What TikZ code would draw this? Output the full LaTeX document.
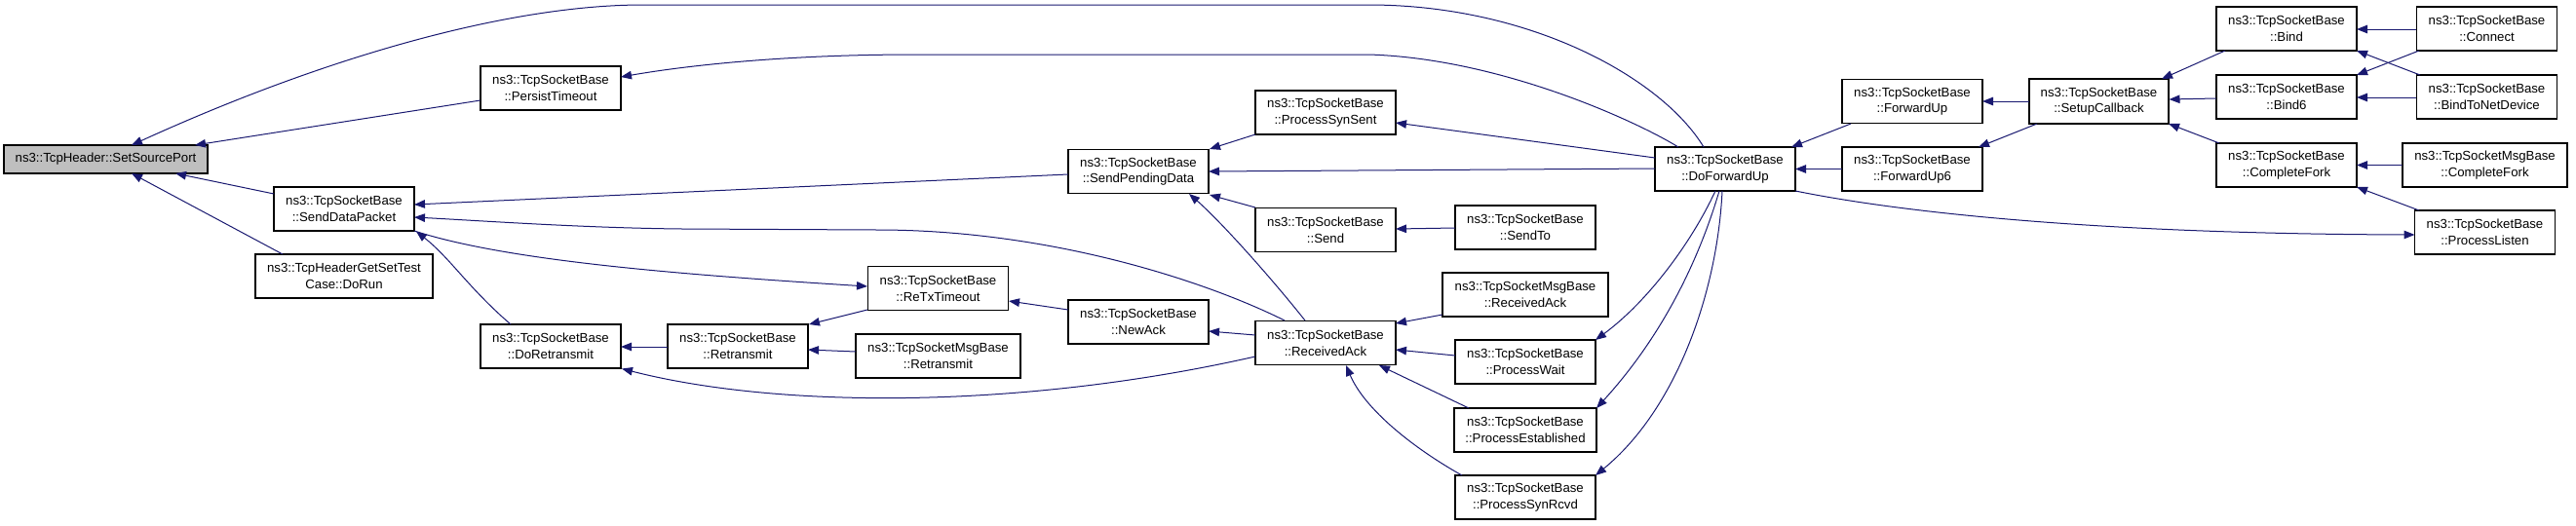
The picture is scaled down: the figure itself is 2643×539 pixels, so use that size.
\documentclass[tikz,border=0pt]{standalone}
\usepackage{fontspec}
\setmainfont{Liberation Sans}
\usetikzlibrary{arrows.meta,calc}
\definecolor{edgeblue}{HTML}{191970}
\definecolor{rootgray}{HTML}{BFBFBF}
\begin{document}
\begin{tikzpicture}[x=1pt,y=-1pt,
  box/.style={draw=black, line width=1.2pt, fill=white, minimum width=144pt, minimum height=45pt,
    inner sep=0pt, align=center, font=\fontsize{13.2}{16.7}\selectfont},
  edge/.style={draw=edgeblue, line width=1pt, -{Triangle[length=11pt,width=8.5pt]}}]
\useasboundingbox (0,0) rectangle (2643,539);
% nodes
\node[box, fill=rootgray, minimum width=209pt, minimum height=29pt] (ssp) at (108.5,163.5) {ns3::TcpHeader::SetSourcePort};
\node[box] (persist) at (565,90.5) {ns3::TcpSocketBase\\::PersistTimeout};
\node[box] (sdp) at (353,214.5) {ns3::TcpSocketBase\\::SendDataPacket};
\node[box, minimum width=182pt] (dorun) at (353,283.5) {ns3::TcpHeaderGetSetTest\\Case::DoRun};
\node[box] (doret) at (565,355.5) {ns3::TcpSocketBase\\::DoRetransmit};
\node[box] (spd) at (1168,176) {ns3::TcpSocketBase\\::SendPendingData};
\node[box] (synsent) at (1360,115.5) {ns3::TcpSocketBase\\::ProcessSynSent};
\node[box] (send) at (1360,236) {ns3::TcpSocketBase\\::Send};
\node[box] (retx) at (962.5,296) {ns3::TcpSocketBase\\::ReTxTimeout};
\node[box] (retr) at (757,355.5) {ns3::TcpSocketBase\\::Retransmit};
\node[box, minimum width=169pt] (mretr) at (962.5,365.5) {ns3::TcpSocketMsgBase\\::Retransmit};
\node[box] (newack) at (1168,330.5) {ns3::TcpSocketBase\\::NewAck};
\node[box] (rack) at (1360,352) {ns3::TcpSocketBase\\::ReceivedAck};
\node[box] (dfu) at (1770,173.5) {ns3::TcpSocketBase\\::DoForwardUp};
\node[box] (sendto) at (1565,233.5) {ns3::TcpSocketBase\\::SendTo};
\node[box] (fu) at (1962,104) {ns3::TcpSocketBase\\::ForwardUp};
\node[box] (fu6) at (1962,173.5) {ns3::TcpSocketBase\\::ForwardUp6};
\node[box, minimum width=170pt] (mrack) at (1565,302.5) {ns3::TcpSocketMsgBase\\::ReceivedAck};
\node[box] (pwait) at (1565,371.5) {ns3::TcpSocketBase\\::ProcessWait};
\node[box, minimum width=146pt] (pest) at (1565,441.5) {ns3::TcpSocketBase\\::ProcessEstablished};
\node[box] (psynr) at (1565,510.5) {ns3::TcpSocketBase\\::ProcessSynRcvd};
\node[box, minimum width=143pt, minimum height=46pt] (setup) at (2153.5,104) {ns3::TcpSocketBase\\::SetupCallback};
\node[box] (bind) at (2346,29.5) {ns3::TcpSocketBase\\::Bind};
\node[box] (bind6) at (2346,99.5) {ns3::TcpSocketBase\\::Bind6};
\node[box] (cfork) at (2346,169.5) {ns3::TcpSocketBase\\::CompleteFork};
\node[box] (connect) at (2551.5,29.5) {ns3::TcpSocketBase\\::Connect};
\node[box] (btnd) at (2551.5,99.5) {ns3::TcpSocketBase\\::BindToNetDevice};
\node[box, minimum width=169pt] (mcfork) at (2549.5,169.5) {ns3::TcpSocketMsgBase\\::CompleteFork};
\node[box] (plisten) at (2549.5,238.5) {ns3::TcpSocketBase\\::ProcessListen};
% edges (caller -> callee)
\draw[edge] ($(dfu.center)+(-22,-22.5)$) .. controls (1705,80) and (1570,5) .. (1404,5) -- (660,5) .. controls (520,5) and (330,60) .. ($(ssp.center)+(26.5,-14.5)$);
\draw[edge] ($(persist.center)+(-72,12.5)$) -- ($(ssp.center)+(91.5,-14.5)$);
\draw[edge] ($(sdp.center)+(-72,-15.5)$) -- ($(ssp.center)+(71.5,14.5)$);
\draw[edge] ($(dorun.center)+(-63,-22.5)$) -- ($(ssp.center)+(26.5,14.5)$);
\draw[edge] ($(dfu.center)+(-48,-22.5)$) .. controls (1680,125) and (1540,60) .. (1404,56) -- (940,56) .. controls (800,56) and (700,68) .. ($(persist.center)+(72,-11.5)$);
\draw[edge] ($(spd.center)+(-72,3)$) -- ($(sdp.center)+(72,-4.5)$);
\draw[edge] ($(rack.center)+(-42,-23)$) .. controls (1240,290) and (1080,236) .. (900,236) -- (700,235) .. controls (600,234) and (500,227) .. ($(sdp.center)+(72,8.5)$);
\draw[edge] ($(doret.center)+(-41,-22.5)$) .. controls (480,295) and (462,265) .. ($(sdp.center)+(74,23)$);
\draw[edge] ($(sdp.center)+(72,22.5)$) .. controls (520,268) and (700,282) .. ($(retx.center)+(-72.5,-2)$);
\draw[edge] ($(newack.center)+(-72,-12.5)$) -- ($(retx.center)+(72.5,13)$);
\draw[edge] ($(retx.center)+(-72.5,22)$) -- ($(retr.center)+(73,-22.5)$);
\draw[edge] ($(mretr.center)+(-84.5,-4.5)$) -- ($(retr.center)+(72,3.5)$);
\draw[edge] ($(retr.center)+(-72,0.5)$) -- ($(doret.center)+(72,0.5)$);
\draw[edge] ($(rack.center)+(-72,14)$) .. controls (1050,420) and (800,420) .. ($(doret.center)+(73,23)$);
\draw[edge] ($(synsent.center)+(-72,22.5)$) -- ($(spd.center)+(73,-23)$);
\draw[edge] ($(dfu.center)+(-72,-0.5)$) -- ($(spd.center)+(72,0)$);
\draw[edge] ($(send.center)+(-72,-23)$) -- ($(spd.center)+(73,24)$);
\draw[edge] ($(rack.center)+(-21,-23)$) .. controls (1300,280) and (1250,225) .. ($(spd.center)+(52,23)$);
\draw[edge] ($(dfu.center)+(-72,-11.5)$) -- ($(synsent.center)+(72,10.5)$);
\draw[edge] ($(sendto.center)+(-72,0.5)$) -- ($(send.center)+(72,-1)$);
\draw[edge] ($(rack.center)+(-72,-8)$) -- ($(newack.center)+(72,9.5)$);
\draw[edge] ($(mrack.center)+(-85,20.5)$) -- ($(rack.center)+(72,-20)$);
\draw[edge] ($(pwait.center)+(-72,-6.5)$) -- ($(rack.center)+(72,7)$);
\draw[edge] ($(pest.center)+(-58,-22.5)$) -- ($(rack.center)+(55,23)$);
\draw[edge] ($(psynr.center)+(-65,-22.5)$) .. controls (1450,460) and (1400,420) .. ($(rack.center)+(21,23)$);
\draw[edge] ($(dfu.center)+(-10,22.5)$) .. controls (1735,250) and (1690,310) .. ($(pwait.center)+(72,-22.5)$);
\draw[edge] ($(dfu.center)+(-6,22.5)$) .. controls (1745,260) and (1710,340) .. ($(pest.center)+(73,-22.5)$);
\draw[edge] ($(dfu.center)+(-3,22.5)$) .. controls (1762,300) and (1720,420) .. ($(psynr.center)+(72,-22.5)$);
\draw[edge] ($(fu.center)+(-63,23)$) -- ($(dfu.center)+(68,-22.5)$);
\draw[edge] ($(fu6.center)+(-72,0)$) -- ($(dfu.center)+(72,0)$);
\draw[edge] ($(dfu.center)+(72,22.5)$) .. controls (1950,218) and (2150,240) .. ($(plisten.center)+(-72,2.5)$);
\draw[edge] ($(setup.center)+(-71.5,0)$) -- ($(fu.center)+(72,0)$);
\draw[edge] ($(setup.center)+(-63.5,23)$) -- ($(fu6.center)+(68,-22.5)$);
\draw[edge] ($(bind.center)+(-63,22.5)$) -- ($(setup.center)+(64.5,-23)$);
\draw[edge] ($(bind6.center)+(-72,1.5)$) -- ($(setup.center)+(72,-2)$);
\draw[edge] ($(cfork.center)+(-69,-22.5)$) -- ($(setup.center)+(71.5,23)$);
\draw[edge] ($(connect.center)+(-72.5,0.5)$) -- ($(bind.center)+(72,0.5)$);
\draw[edge] ($(connect.center)+(-69.5,22.5)$) -- ($(bind6.center)+(72,-22.5)$);
\draw[edge] ($(btnd.center)+(-68.5,-22.5)$) -- ($(bind.center)+(72,22.5)$);
\draw[edge] ($(btnd.center)+(-72.5,0.5)$) -- ($(bind6.center)+(72,0.5)$);
\draw[edge] ($(mcfork.center)+(-84.5,0)$) -- ($(cfork.center)+(72,0)$);
\draw[edge] ($(plisten.center)+(-67.5,-22.5)$) -- ($(cfork.center)+(72,22.5)$);
\end{tikzpicture}
\end{document}
